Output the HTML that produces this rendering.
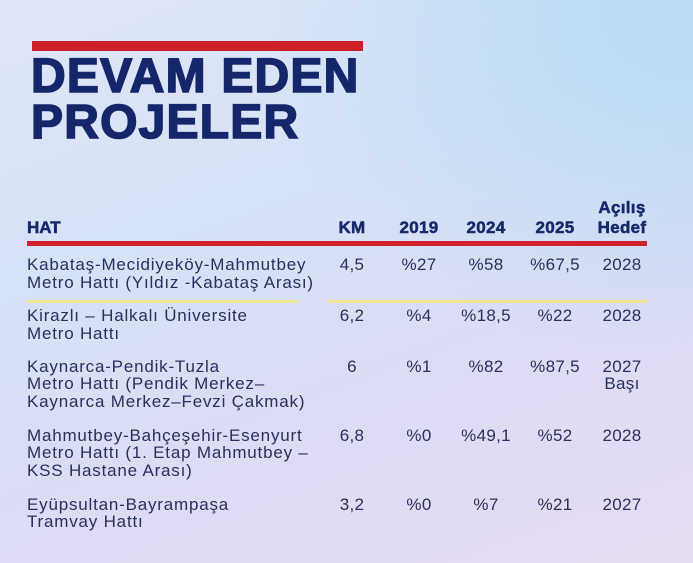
<!DOCTYPE html>
<html><head><meta charset="utf-8"><style>
html,body{margin:0;padding:0}
body{width:693px;height:563px;position:relative;overflow:hidden;font-family:"Liberation Sans",sans-serif;
background:linear-gradient(160deg,#dfe6f7 0%,#d6e2f6 35%,#dcdcf4 65%,#e6dcf2 100%);}
.bg2{position:absolute;inset:0;background:radial-gradient(ellipse at 100% 0%,#b8dcf3 0%,rgba(184,220,243,0) 45%);}
.t{position:absolute;color:#2a2f5c;font-size:17px;line-height:18px;letter-spacing:0.8px;white-space:nowrap}
.c{transform:translateX(-50%);text-align:center;letter-spacing:0.3px}
.h{position:absolute;color:#17296b;font-weight:bold;font-size:17px;line-height:18px;white-space:nowrap;-webkit-text-stroke:0.5px #17296b}
.title{position:absolute;left:31px;color:#15266b;font-weight:bold;font-size:48px;line-height:48px;letter-spacing:1.2px;white-space:nowrap;-webkit-text-stroke:1.6px #15266b}
.bar{position:absolute}
</style></head><body>
<div class="bg2"></div>
<div class="bar" style="left:32px;top:41px;width:331px;height:10px;background:#cc1f2a"></div>
<div class="title" style="top:53px">DEVAM EDEN</div>
<div class="title" style="top:99px">PROJELER</div>

<div class="h" style="left:27px;top:219px">HAT</div>
<div class="h c" style="left:352px;top:219px">KM</div>
<div class="h c" style="left:419px;top:219px">2019</div>
<div class="h c" style="left:486px;top:219px">2024</div>
<div class="h c" style="left:555px;top:219px">2025</div>
<div class="h c" style="left:622px;top:199px">Açılış</div>
<div class="h c" style="left:622px;top:219px">Hedef</div>
<div class="bar" style="left:27px;top:241px;width:620px;height:5px;background:#d0222e"></div>

<div class="t" style="left:27px;top:256px">Kabataş-Mecidiyeköy-Mahmutbey</div>
<div class="t" style="left:27px;top:274px">Metro Hattı (Yıldız -Kabataş Arası)</div>
<div class="t c" style="left:352px;top:256px">4,5</div>
<div class="t c" style="left:419px;top:256px">%27</div>
<div class="t c" style="left:486px;top:256px">%58</div>
<div class="t c" style="left:555px;top:256px">%67,5</div>
<div class="t c" style="left:622px;top:256px">2028</div>
<div class="bar" style="left:27px;top:300px;width:271px;height:3px;background:#efe59a"></div>
<div class="bar" style="left:327px;top:300px;width:321px;height:3px;background:#efe59a"></div>

<div class="t" style="left:27px;top:307px">Kirazlı – Halkalı Üniversite</div>
<div class="t" style="left:27px;top:325px">Metro Hattı</div>
<div class="t c" style="left:352px;top:307px">6,2</div>
<div class="t c" style="left:419px;top:307px">%4</div>
<div class="t c" style="left:486px;top:307px">%18,5</div>
<div class="t c" style="left:555px;top:307px">%22</div>
<div class="t c" style="left:622px;top:307px">2028</div>

<div class="t" style="left:27px;top:358px">Kaynarca-Pendik-Tuzla</div>
<div class="t" style="left:27px;top:375px">Metro Hattı (Pendik Merkez–</div>
<div class="t" style="left:27px;top:393px">Kaynarca Merkez–Fevzi Çakmak)</div>
<div class="t c" style="left:352px;top:358px">6</div>
<div class="t c" style="left:419px;top:358px">%1</div>
<div class="t c" style="left:486px;top:358px">%82</div>
<div class="t c" style="left:555px;top:358px">%87,5</div>
<div class="t c" style="left:622px;top:358px">2027</div>
<div class="t c" style="left:622px;top:375px">Başı</div>

<div class="t" style="left:27px;top:427px">Mahmutbey-Bahçeşehir-Esenyurt</div>
<div class="t" style="left:27px;top:444px">Metro Hattı (1. Etap Mahmutbey –</div>
<div class="t" style="left:27px;top:462px">KSS Hastane Arası)</div>
<div class="t c" style="left:352px;top:427px">6,8</div>
<div class="t c" style="left:419px;top:427px">%0</div>
<div class="t c" style="left:486px;top:427px">%49,1</div>
<div class="t c" style="left:555px;top:427px">%52</div>
<div class="t c" style="left:622px;top:427px">2028</div>

<div class="t" style="left:27px;top:496px">Eyüpsultan-Bayrampaşa</div>
<div class="t" style="left:27px;top:513px">Tramvay Hattı</div>
<div class="t c" style="left:352px;top:496px">3,2</div>
<div class="t c" style="left:419px;top:496px">%0</div>
<div class="t c" style="left:486px;top:496px">%7</div>
<div class="t c" style="left:555px;top:496px">%21</div>
<div class="t c" style="left:622px;top:496px">2027</div>
</body></html>
